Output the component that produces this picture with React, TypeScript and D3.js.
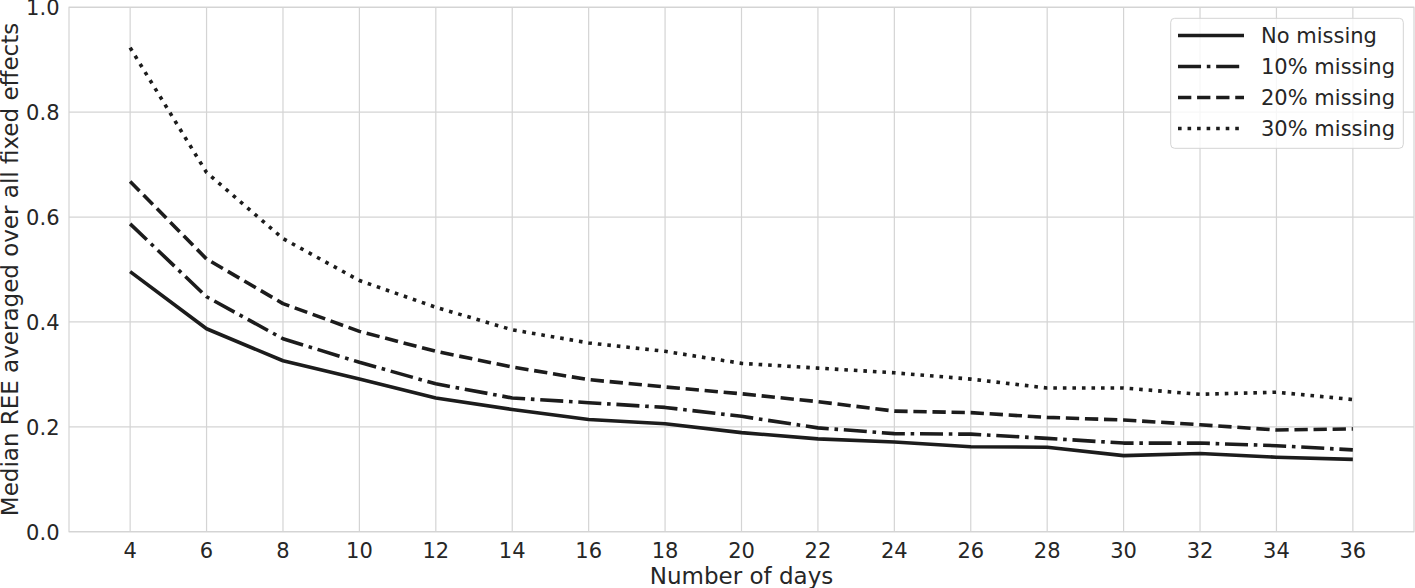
import React from 'react';
import * as d3 from 'd3';

const days = [4, 6, 8, 10, 12, 14, 16, 18, 20, 22, 24, 26, 28, 30, 32, 34, 36];
const noMissing = [0.496, 0.387, 0.326, 0.291, 0.255, 0.233, 0.214, 0.206, 0.189, 0.177, 0.171, 0.162, 0.161, 0.145, 0.149, 0.142, 0.138];
const missing10 = [0.587, 0.448, 0.368, 0.323, 0.282, 0.255, 0.246, 0.237, 0.22, 0.198, 0.187, 0.186, 0.178, 0.169, 0.169, 0.164, 0.156];
const missing20 = [0.668, 0.52, 0.435, 0.382, 0.344, 0.314, 0.29, 0.276, 0.263, 0.248, 0.23, 0.227, 0.218, 0.213, 0.204, 0.194, 0.196];
const missing30 = [0.923, 0.685, 0.559, 0.479, 0.428, 0.385, 0.36, 0.344, 0.321, 0.312, 0.303, 0.291, 0.274, 0.274, 0.262, 0.266, 0.252];
const seriesNames = ['No missing', '10% missing', '20% missing', '30% missing'];
const yTicks = [0, 0.2, 0.4, 0.6, 0.8, 1.0];

const W = 1415;
const H = 588;
const lw = 3.6;
const dashes = ['none', `${6.4 * lw} ${1.6 * lw} ${1 * lw} ${1.6 * lw}`, `${3.7 * lw} ${1.6 * lw}`, `${1 * lw} ${1.65 * lw}`];
const ink = '#1c1c1c';
const textColor = '#262626';
const font = 'DejaVu Sans, sans-serif';

export default function App() {
  const x = d3.scaleLinear().domain([2.4, 37.6]).range([69, 1414]);
  const y = d3.scaleLinear().domain([0, 1]).range([531.7, 7.3]);
  const all = [noMissing, missing10, missing20, missing30];
  const line = d3.line<number>()
    .x((_, i) => x(days[i]))
    .y(d => y(d));

  const [x0, x1] = x.range();
  const [y0, y1] = y.range();

  return (
    <div style={{ position: 'absolute', left: 0, top: 0 }}>
      <svg width={W} height={H} viewBox={`0 0 ${W} ${H}`} style={{ display: 'block', background: '#fff' }}>
        {/* grid */}
        <g stroke="#d4d4d4" strokeWidth={1.2}>
          {days.map(d => (
            <line key={'gx' + d} x1={x(d)} x2={x(d)} y1={y0} y2={y1} />
          ))}
          {yTicks.map(t => (
            <line key={'gy' + t} x1={x0} x2={x1} y1={y(t)} y2={y(t)} />
          ))}
          <rect x={x0} y={y1} width={x1 - x0} height={y0 - y1} fill="none" />
        </g>

        {/* series */}
        {all.map((vals, i) => (
          <path key={i} d={line(vals) || ''} fill="none" stroke={ink} strokeWidth={lw}
            strokeDasharray={dashes[i]} strokeLinejoin="round" />
        ))}

        {/* ticks */}
        <g fontFamily={font} fontSize={21} fill={textColor}>
          {days.map(d => (
            <text key={'tx' + d} x={x(d)} y={558} textAnchor="middle">{d}</text>
          ))}
          {yTicks.map(t => (
            <text key={'ty' + t} x={59.5} y={y(t) + 7.8} textAnchor="end">{t.toFixed(1)}</text>
          ))}
        </g>

        {/* axis labels */}
        <text x={(x0 + x1) / 2} y={583.5} textAnchor="middle" fontFamily={font} fontSize={23} fill={textColor}>
          Number of days
        </text>
        <text transform={`translate(17.5, ${(y0 + y1) / 2}) rotate(-90)`} textAnchor="middle"
          fontFamily={font} fontSize={23} fill={textColor}>
          Median REE averaged over all fixed effects
        </text>

        {/* legend */}
        <g>
          <rect x={1170.7} y={18.3} width={232.6} height={130} rx={4} fill="#fff" fillOpacity={0.8}
            stroke="#d4d4d4" strokeWidth={1} />
          {seriesNames.map((name, i) => {
            const cy = 35.5 + i * 31;
            return (
              <g key={name}>
                <line x1={1178} x2={1244} y1={cy} y2={cy} stroke={ink} strokeWidth={lw} strokeDasharray={dashes[i]} />
                <text x={1261} y={cy + 7.5} fontFamily={font} fontSize={21} fill={textColor}>{name}</text>
              </g>
            );
          })}
        </g>
      </svg>
    </div>
  );
}
